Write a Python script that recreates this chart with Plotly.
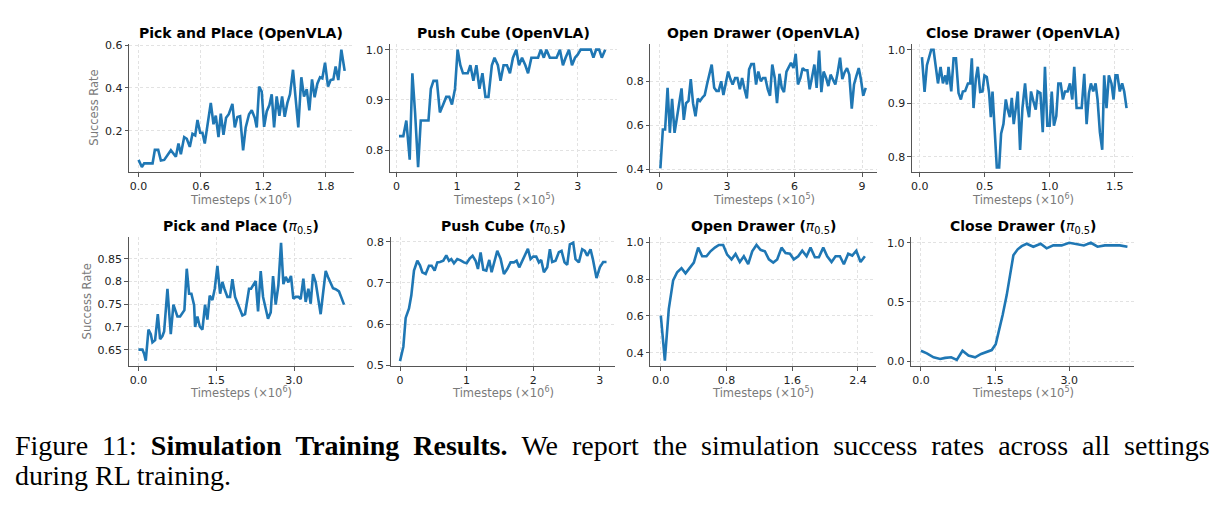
import plotly.graph_objects as go

# ---------------- data ----------------
titles = [
    "<b>Pick and Place (OpenVLA)</b>", "<b>Push Cube (OpenVLA)</b>",
    "<b>Open Drawer (OpenVLA)</b>", "<b>Close Drawer (OpenVLA)</b>",
    "<b>Pick and Place (</b><i>π</i><sub>0.5</sub><b>)</b>", "<b>Push Cube (</b><i>π</i><sub>0.5</sub><b>)</b>",
    "<b>Open Drawer (</b><i>π</i><sub>0.5</sub><b>)</b>", "<b>Close Drawer (</b><i>π</i><sub>0.5</sub><b>)</b>",
]
x_labels = ["Timesteps (×10<sup>6</sup>)", "Timesteps (×10<sup>5</sup>)", "Timesteps (×10<sup>5</sup>)",
            "Timesteps (×10<sup>6</sup>)", "Timesteps (×10<sup>6</sup>)", "Timesteps (×10<sup>6</sup>)",
            "Timesteps (×10<sup>5</sup>)", "Timesteps (×10<sup>5</sup>)"]
y_label = "Success Rate"

pp_ovla_x = [0.0, 0.032, 0.054, 0.135, 0.157, 0.189, 0.215, 0.247, 0.311, 0.359, 0.384, 0.407, 0.439, 0.464,
             0.493, 0.519, 0.545, 0.567, 0.593, 0.615, 0.637, 0.666, 0.695, 0.721, 0.743, 0.769, 0.791, 0.817,
             0.842, 0.868, 0.903, 0.926, 0.951, 0.977, 1.006, 1.031, 1.063, 1.089, 1.118, 1.137, 1.16, 1.185,
             1.208, 1.233, 1.259, 1.281, 1.304, 1.329, 1.355, 1.381, 1.406, 1.432, 1.457, 1.486, 1.512, 1.537,
             1.566, 1.592, 1.618, 1.643, 1.669, 1.694, 1.72, 1.746, 1.768, 1.794, 1.823, 1.848, 1.874, 1.896,
             1.922, 1.951, 1.983]
pp_ovla_y = [0.063, 0.03, 0.047, 0.047, 0.11, 0.11, 0.06, 0.063, 0.108, 0.078, 0.14, 0.09, 0.17, 0.162,
             0.124, 0.185, 0.178, 0.25, 0.19, 0.19, 0.14, 0.235, 0.33, 0.23, 0.27, 0.17, 0.28, 0.18,
             0.26, 0.277, 0.325, 0.215, 0.264, 0.268, 0.108, 0.215, 0.277, 0.295, 0.26, 0.215, 0.406, 0.383,
             0.218, 0.29, 0.32, 0.37, 0.215, 0.36, 0.27, 0.36, 0.265, 0.33, 0.37, 0.485, 0.353, 0.215,
             0.45, 0.36, 0.394, 0.295, 0.44, 0.356, 0.42, 0.45, 0.445, 0.518, 0.406, 0.437, 0.44, 0.5,
             0.437, 0.579, 0.48]

pc_ovla_x = [0.039, 0.111, 0.161, 0.217, 0.261, 0.306, 0.356, 0.4, 0.456, 0.528,
             0.567, 0.611, 0.667, 0.717, 0.772, 0.822, 0.872, 0.917, 0.967, 1.011,
             1.056, 1.1, 1.15, 1.178, 1.222, 1.272, 1.322, 1.372, 1.422, 1.472,
             1.522, 1.578, 1.622, 1.678, 1.722, 1.772, 1.828, 1.878, 1.928, 1.983,
             2.028, 2.078, 2.133, 2.178, 2.233, 2.289, 2.344, 2.389, 2.439, 2.483,
             2.539, 2.594, 2.65, 2.706, 2.756, 2.8, 2.856, 2.906, 2.956, 3.0,
             3.05, 3.106, 3.161, 3.217, 3.261, 3.306, 3.356, 3.4, 3.456]
pc_ovla_y = [0.828, 0.828, 0.859, 0.781, 0.953, 0.875, 0.766, 0.859, 0.859, 0.859,
             0.922, 0.938, 0.938, 0.875, 0.891, 0.906, 0.906, 0.891, 0.922, 1.0,
             0.969, 0.953, 0.953, 0.953, 0.969, 0.938, 0.969, 0.922, 0.953, 0.906,
             0.906, 0.969, 0.984, 0.969, 0.938, 0.969, 0.969, 0.953, 0.984, 1.0,
             0.969, 0.984, 0.969, 0.953, 0.984, 0.984, 0.984, 1.0, 0.984, 1.0,
             0.984, 0.984, 0.984, 1.0, 0.969, 0.984, 1.0, 0.969, 0.984, 0.99,
             1.0, 1.0, 1.0, 1.0, 0.984, 1.0, 1.0, 0.984, 1.0]

od_ovla_x = [0.04, 0.15, 0.25, 0.36, 0.46, 0.56, 0.67, 0.77, 0.87, 0.98,
             1.08, 1.18, 1.29, 1.39, 1.49, 1.6, 1.7, 1.8, 1.91, 2.01,
             2.12, 2.22, 2.32, 2.43, 2.53, 2.63, 2.74, 2.84, 2.94, 3.05,
             3.15, 3.25, 3.36, 3.46, 3.57, 3.67, 3.77, 3.88, 3.98, 4.08,
             4.19, 4.29, 4.39, 4.5, 4.6, 4.7, 4.81, 4.91, 5.01, 5.12,
             5.22, 5.33, 5.43, 5.53, 5.64, 5.74, 5.84, 5.95, 6.05, 6.15,
             6.26, 6.36, 6.46, 6.57, 6.67, 6.78, 6.88, 6.98, 7.09, 7.19,
             7.29, 7.4, 7.5, 7.6, 7.71, 7.81, 7.91, 8.02, 8.12, 8.22,
             8.33, 8.43, 8.54, 8.64, 8.74, 8.85, 8.95, 9.05, 9.16]
od_ovla_y = [0.403, 0.58, 0.58, 0.77, 0.565, 0.72, 0.565, 0.63, 0.68, 0.767,
             0.624, 0.7, 0.71, 0.81, 0.70, 0.64, 0.72, 0.71, 0.726, 0.737,
             0.79, 0.83, 0.876, 0.77, 0.756, 0.756, 0.8, 0.737, 0.79, 0.844,
             0.81, 0.785, 0.815, 0.815, 0.763, 0.815, 0.767, 0.722, 0.854, 0.878,
             0.878, 0.785, 0.844, 0.8, 0.815, 0.815, 0.763, 0.734, 0.876, 0.815,
             0.70, 0.834, 0.77, 0.75, 0.844, 0.866, 0.884, 0.86, 0.925, 0.785,
             0.815, 0.86, 0.85, 0.85, 0.763, 0.82, 0.876, 0.77, 0.94, 0.75,
             0.844, 0.815, 0.778, 0.83, 0.807, 0.785, 0.837, 0.907, 0.81, 0.84,
             0.86, 0.83, 0.675, 0.785, 0.822, 0.86, 0.807, 0.734, 0.77]

cd_ovla_x = [0.018, 0.038, 0.056, 0.077, 0.089, 0.107, 0.125, 0.141, 0.161, 0.179,
             0.197, 0.21, 0.222, 0.243, 0.261, 0.279, 0.299, 0.317, 0.332, 0.35,
             0.371, 0.388, 0.401, 0.414, 0.432, 0.447, 0.465, 0.483, 0.498, 0.516,
             0.534, 0.547, 0.56, 0.575, 0.593, 0.611, 0.626, 0.644, 0.662, 0.677,
             0.693, 0.708, 0.723, 0.739, 0.754, 0.772, 0.79, 0.81, 0.825, 0.841,
             0.856, 0.874, 0.892, 0.907, 0.928, 0.946, 0.963, 0.981, 0.999, 1.015,
             1.032, 1.05, 1.066, 1.084, 1.101, 1.117, 1.137, 1.155, 1.173, 1.188,
             1.206, 1.224, 1.245, 1.265, 1.283, 1.301, 1.316, 1.334, 1.352, 1.367,
             1.385, 1.403, 1.418, 1.436, 1.454, 1.474, 1.49, 1.505, 1.52, 1.538,
             1.556, 1.572, 1.59]
cd_ovla_y = [0.986, 0.921, 0.971, 0.989, 1.0, 1.0, 0.965, 0.937, 0.968, 0.937,
             0.952, 0.935, 0.968, 0.922, 0.984, 0.984, 0.919, 0.907, 0.922, 0.923,
             0.937, 0.937, 0.984, 0.891, 0.946, 0.968, 0.921, 0.922, 0.952, 0.949,
             0.919, 0.874, 0.922, 0.867, 0.78, 0.78, 0.843, 0.861, 0.907, 0.888,
             0.874, 0.91, 0.861, 0.891, 0.922, 0.813, 0.891, 0.937, 0.895, 0.874,
             0.922, 0.904, 0.888, 0.922, 0.919, 0.846, 0.968, 0.858, 0.858, 0.922,
             0.858, 0.876, 0.937, 0.937, 0.907, 0.922, 0.922, 0.937, 0.907, 0.968,
             0.891, 0.891, 0.891, 0.955, 0.861, 0.919, 0.937, 0.922, 0.937, 0.907,
             0.846, 0.813, 0.952, 0.891, 0.952, 0.937, 0.907, 0.952, 0.952, 0.922,
             0.937, 0.922, 0.891]

pp_pi_x = [0.0, 0.077, 0.109, 0.141, 0.193, 0.238, 0.27, 0.321, 0.373, 0.417,
           0.462, 0.495, 0.559, 0.623, 0.674, 0.719, 0.751, 0.803, 0.848, 0.886,
           0.931, 0.976, 1.021, 1.073, 1.092, 1.137, 1.182, 1.233, 1.284, 1.329,
           1.374, 1.426, 1.471, 1.522, 1.574, 1.618, 1.657, 1.715, 1.766, 1.811,
           1.863, 1.914, 1.959, 2.004, 2.055, 2.087, 2.132, 2.171, 2.216, 2.261,
           2.306, 2.357, 2.402, 2.453, 2.498, 2.55, 2.595, 2.646, 2.697, 2.749,
           2.794, 2.839, 2.89, 2.941, 2.986, 3.031, 3.083, 3.128, 3.179, 3.224,
           3.276, 3.321, 3.366, 3.417, 3.462, 3.513, 3.558, 3.61, 3.654, 3.706,
           3.751, 3.802, 3.866, 3.911, 3.963]
pp_pi_y = [0.65, 0.65, 0.641, 0.626, 0.694, 0.684, 0.666, 0.671, 0.728, 0.673,
           0.68, 0.69, 0.784, 0.684, 0.749, 0.734, 0.723, 0.723, 0.73, 0.737,
           0.828, 0.773, 0.773, 0.748, 0.70, 0.723, 0.701, 0.694, 0.749, 0.716,
           0.769, 0.759, 0.784, 0.834, 0.773, 0.799, 0.784, 0.766, 0.766, 0.805,
           0.766, 0.751, 0.741, 0.725, 0.728, 0.751, 0.784, 0.784, 0.792, 0.801,
           0.734, 0.823, 0.766, 0.741, 0.718, 0.732, 0.812, 0.749, 0.791, 0.885,
           0.794, 0.81, 0.798, 0.812, 0.762, 0.766, 0.766, 0.761, 0.806, 0.755,
           0.784, 0.751, 0.816, 0.798, 0.764, 0.728, 0.773, 0.823, 0.81, 0.795,
           0.785, 0.783, 0.778, 0.765, 0.749]

pc_pi_x = [0.0, 0.05, 0.085, 0.135, 0.17, 0.21, 0.26, 0.3, 0.335, 0.385,
           0.435, 0.475, 0.52, 0.56, 0.6, 0.65, 0.695, 0.735, 0.77, 0.81,
           0.86, 0.91, 0.96, 1.0, 1.045, 1.09, 1.135, 1.17, 1.21, 1.25,
           1.295, 1.34, 1.375, 1.41, 1.46, 1.51, 1.56, 1.61, 1.66, 1.71,
           1.75, 1.79, 1.835, 1.88, 1.92, 1.96, 2.0, 2.045, 2.085, 2.12,
           2.16, 2.21, 2.25, 2.285, 2.335, 2.385, 2.425, 2.47, 2.51, 2.55,
           2.6, 2.635, 2.685, 2.735, 2.775, 2.81, 2.86, 2.895, 2.95, 3.0,
           3.05, 3.1]
pc_pi_y = [0.51, 0.545, 0.615, 0.638, 0.67, 0.73, 0.754, 0.743, 0.726, 0.722,
           0.742, 0.742, 0.73, 0.75, 0.751, 0.754, 0.767, 0.754, 0.758, 0.748,
           0.758, 0.755, 0.75, 0.748, 0.759, 0.766, 0.754, 0.734, 0.774, 0.732,
           0.73, 0.756, 0.726, 0.746, 0.778, 0.759, 0.722, 0.734, 0.75, 0.75,
           0.754, 0.738, 0.754, 0.766, 0.783, 0.758, 0.764, 0.764, 0.75, 0.756,
           0.726, 0.738, 0.782, 0.751, 0.754, 0.775, 0.778, 0.75, 0.744, 0.794,
           0.798, 0.758, 0.75, 0.782, 0.778, 0.766, 0.782, 0.758, 0.712, 0.738,
           0.751, 0.751]

od_pi_x = [0.0, 0.049, 0.097, 0.15, 0.199, 0.252, 0.301, 0.353, 0.402, 0.455,
           0.504, 0.556, 0.605, 0.658, 0.707, 0.759, 0.808, 0.861, 0.91, 0.962,
           1.011, 1.064, 1.113, 1.165, 1.214, 1.267, 1.316, 1.369, 1.417, 1.47,
           1.519, 1.572, 1.62, 1.673, 1.722, 1.775, 1.823, 1.876, 1.925, 1.978,
           2.026, 2.079, 2.128, 2.181, 2.229, 2.282, 2.331, 2.38, 2.432, 2.485]
od_pi_y = [0.602, 0.358, 0.637, 0.793, 0.837, 0.859, 0.831, 0.863, 0.889, 0.97,
           0.923, 0.923, 0.95, 0.97, 0.984, 0.984, 0.932, 0.906, 0.936, 0.892,
           0.923, 0.88, 0.95, 0.984, 0.958, 0.95, 0.906, 0.889, 0.906, 0.97,
           0.941, 0.937, 0.906, 0.923, 0.953, 0.923, 0.97, 0.918, 0.918, 0.97,
           0.923, 0.892, 0.923, 0.923, 0.88, 0.937, 0.927, 0.953, 0.892, 0.923]

cd_pi_x = [0.0, 0.121, 0.256, 0.39, 0.491, 0.612, 0.726, 0.841, 0.962, 1.096,
           1.217, 1.332, 1.432, 1.513, 1.58, 1.654, 1.735, 1.802, 1.87, 1.957,
           2.038, 2.139, 2.273, 2.421, 2.542, 2.677, 2.845, 2.999, 3.147, 3.295,
           3.436, 3.571, 3.719, 3.853, 4.022, 4.176]
cd_pi_y = [0.088, 0.066, 0.033, 0.019, 0.028, 0.033, 0.011, 0.088, 0.047, 0.033,
           0.061, 0.08, 0.094, 0.144, 0.254, 0.392, 0.558, 0.724, 0.895, 0.945,
           0.972, 0.992, 0.967, 0.992, 0.953, 0.978, 0.978, 1.0, 0.986, 0.978,
           1.0, 0.967, 0.978, 0.978, 0.978, 0.967]

x_series = [pp_ovla_x, pc_ovla_x, od_ovla_x, cd_ovla_x, pp_pi_x, pc_pi_x, od_pi_x, cd_pi_x]
y_series = [pp_ovla_y, pc_ovla_y, od_ovla_y, cd_ovla_y, pp_pi_y, pc_pi_y, od_pi_y, cd_pi_y]

x_ticks = [[0, 0.6, 1.2, 1.8], [0, 1, 2, 3], [0, 3, 6, 9], [0, 0.5, 1.0, 1.5],
           [0, 1.5, 3.0], [0, 1, 2, 3], [0, 0.8, 1.6, 2.4], [0, 1.5, 3.0]]
x_tick_text = [["0.0", "0.6", "1.2", "1.8"], ["0", "1", "2", "3"], ["0", "3", "6", "9"],
               ["0.0", "0.5", "1.0", "1.5"], ["0.0", "1.5", "3.0"], ["0", "1", "2", "3"],
               ["0.0", "0.8", "1.6", "2.4"], ["0.0", "1.5", "3.0"]]
y_ticks = [[0.2, 0.4, 0.6], [0.8, 0.9, 1.0], [0.4, 0.6, 0.8], [0.8, 0.9, 1.0],
           [0.65, 0.7, 0.75, 0.8, 0.85], [0.5, 0.6, 0.7, 0.8], [0.4, 0.6, 0.8, 1.0], [0.0, 0.5, 1.0]]
y_tick_text = [["0.2", "0.4", "0.6"], ["0.8", "0.9", "1.0"], ["0.4", "0.6", "0.8"], ["0.8", "0.9", "1.0"],
               ["0.65", "0.7", "0.75", "0.8", "0.85"], ["0.5", "0.6", "0.7", "0.8"],
               ["0.4", "0.6", "0.8", "1.0"], ["0.0", "0.5", "1.0"]]

caption_line1_words = ["Figure", "11:", "<b>Simulation", "Training", "Results.</b>", "We", "report", "the",
                       "simulation", "success", "rates", "across", "all", "settings"]
caption_line2 = "during RL training."

# ---------------- layout (pixel geometry) ----------------
W, H = 1219, 510
x_ranges = [[-0.09, 2.07], [-0.11, 3.66], [-0.4, 9.66], [-0.059, 1.64],
            [-0.19, 4.15], [-0.14, 3.235], [-0.126, 2.62], [-0.195, 4.31]]
y_ranges = [[0.005, 0.605], [0.756, 1.011], [0.385, 0.969], [0.771, 1.0104],
            [0.614, 0.898], [0.498, 0.812], [0.329, 1.028], [-0.041, 1.05]]
px_left = [128.3, 389.3, 650, 911.7, 127.7, 390, 650, 911]
px_right = [353, 617, 876.7, 1133, 353, 615, 875.7, 1134]
px_top = [40, 40, 40, 40, 237, 237, 237, 237]
px_bot = [171, 171, 171, 171, 369, 369, 369, 369]
title_y = [29, 29, 29, 29, 226.5, 226.5, 226.5, 226.5]
xlabel_y = [198.5, 198.5, 198.5, 198.5, 396.5, 396.5, 396.5, 396.5]

FONT = "DejaVu Sans"
SPINE = "#555555"
fig = go.Figure()
annotations = []
layout = dict(
    width=W, height=H, margin=dict(l=0, r=0, t=0, b=0),
    paper_bgcolor="white", plot_bgcolor="white", showlegend=False,
    font=dict(family=FONT, size=11, color="#222222"),
)

for i in range(8):
    n = i + 1
    xa = f"xaxis{n}" if n > 1 else "xaxis"
    ya = f"yaxis{n}" if n > 1 else "yaxis"
    fig.add_trace(go.Scatter(
        x=x_series[i], y=y_series[i], mode="lines",
        line=dict(color="#1f77b4", width=2.6),
        xaxis=f"x{n}" if n > 1 else "x", yaxis=f"y{n}" if n > 1 else "y",
        hoverinfo="skip",
    ))
    common = dict(showline=True, linecolor=SPINE, linewidth=1, mirror=False,
                  ticks="outside", ticklen=3.5, tickwidth=1, tickcolor=SPINE,
                  showgrid=True, gridcolor="#e2e2e2", gridwidth=0.8, griddash="3px,2.5px",
                  zeroline=False, tickfont=dict(family=FONT, size=11, color="#222222"))
    layout[xa] = dict(common, domain=[px_left[i] / W, px_right[i] / W], range=x_ranges[i],
                      tickmode="array", tickvals=x_ticks[i], ticktext=x_tick_text[i],
                      anchor=f"y{n}" if n > 1 else "y")
    layout[ya] = dict(common, domain=[1 - px_bot[i] / H, 1 - px_top[i] / H], range=y_ranges[i],
                      tickmode="array", tickvals=y_ticks[i], ticktext=y_tick_text[i],
                      anchor=f"x{n}" if n > 1 else "x")
    cx = (px_left[i] + px_right[i]) / 2 / W
    annotations.append(dict(text=titles[i], x=cx, y=1 - title_y[i] / H, xref="paper", yref="paper",
                            xanchor="center", yanchor="middle", showarrow=False,
                            font=dict(family=FONT, size=14, color="black")))
    annotations.append(dict(text=x_labels[i], x=cx, y=1 - xlabel_y[i] / H, xref="paper", yref="paper",
                            xanchor="center", yanchor="middle", showarrow=False,
                            font=dict(family=FONT, size=11.5, color="#7a7a7a")))

for (xp, yp) in [(93, 105), (87, 303)]:
    annotations.append(dict(text=y_label, x=xp / W, y=1 - yp / H, xref="paper", yref="paper",
                            xanchor="center", yanchor="middle", textangle=-90, showarrow=False,
                            font=dict(family=FONT, size=11.5, color="#7a7a7a")))

# justified first caption line: widen word gaps like the typeset original
caption_line1 = " \u00a0".join(caption_line1_words)
annotations.append(dict(text=caption_line1, x=12 / W, y=1 - 450 / H, xref="paper", yref="paper",
                        xanchor="left", yanchor="middle", showarrow=False,
                        font=dict(family="Liberation Serif", size=28, color="black")))
annotations.append(dict(text=caption_line2, x=12 / W, y=1 - 481 / H, xref="paper", yref="paper",
                        xanchor="left", yanchor="middle", showarrow=False,
                        font=dict(family="Liberation Serif", size=28, color="black")))

layout["annotations"] = annotations
fig.update_layout(**layout)
fig.write_html("out.html")
